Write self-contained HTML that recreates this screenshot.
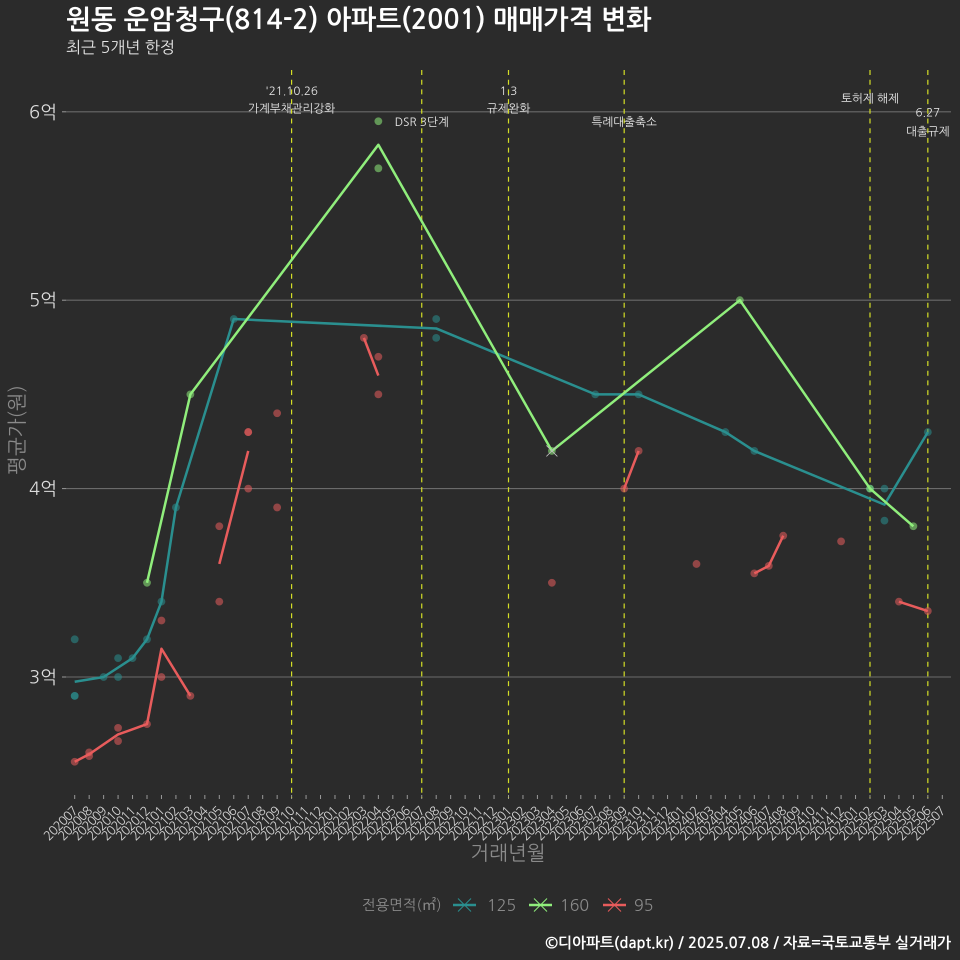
<!DOCTYPE html>
<html lang="ko">
<head>
<meta charset="utf-8">
<title>원동 운암청구(814-2) 아파트(2001) 매매가격 변화</title>
<style>
html,body{margin:0;padding:0;background:#2b2b2b;}
#chart{display:block;width:960px;height:960px;font-family:"NanumGothic","Liberation Sans","Noto Sans CJK KR",sans-serif;}
</style>
</head>
<body>
<svg id="chart" xmlns="http://www.w3.org/2000/svg" width="960" height="960" viewBox="0 0 960 960">
<rect x="0" y="0" width="960" height="960" fill="#2b2b2b"/>
<text x="66" y="29" font-size="26.75" font-weight="700" fill="#ffffff">원동 운암청구(814-2) 아파트(2001) 매매가격 변화</text>
<text x="66" y="53" font-size="16" fill="#e6e6e6">최근 5개년 한정</text>
<g id="grid"></g>
<g id="yaxis"></g>
<g id="xaxis"></g>
<g id="events"></g>
<g id="points"></g>
<g id="lines"></g>
<g id="notes"></g>
<text transform="translate(24,430) rotate(-90)" text-anchor="middle" font-size="20" fill="#8a8a8a">평균가(원)</text>
<text x="508" y="860" text-anchor="middle" font-size="20" fill="#8a8a8a">거래년월</text>
<text x="362" y="910" font-size="14.5" fill="#8a8a8a">전용면적(㎡)</text>
<g id="legend"></g>
<text x="951" y="948" text-anchor="end" font-size="14.9" font-weight="700" fill="#ffffff">©디아파트(dapt.kr) / 2025.07.08 / 자료=국토교통부 실거래가</text>
</svg>
<script>
const months = ["202007","202008","202009","202010","202011","202012","202101","202102","202103","202104","202105","202106","202107","202108","202109","202110","202111","202112","202201","202202","202203","202204","202205","202206","202207","202208","202209","202210","202211","202212","202301","202302","202303","202304","202305","202306","202307","202308","202309","202310","202311","202312","202401","202402","202403","202404","202405","202406","202407","202408","202409","202410","202411","202412","202501","202502","202503","202504","202505","202506","202507"];
const yTicks = [3,4,5,6];
const yTickLabels = ["3억","4억","5억","6억"];
const seriesNames = ["125","160","95"];
const seriesColors = ["#2a8f8f","#90ee7c","#e85c5c"];

const line125Months = ["202007","202009","202011","202012","202101","202102","202106","202208","202307","202310","202404","202406","202503","202506"];
const line125Values = [2.975,3.0,3.1,3.2,3.4,3.9,4.9,4.85,4.5,4.5,4.3,4.2,3.915,4.3];
const line160Months = ["202012","202103","202204","202304","202405","202502","202505"];
const line160Values = [3.5,4.5,5.825,4.2,5.0,4.0,3.8];
const line95aMonths = ["202007","202008","202010","202012","202101","202103"];
const line95aValues = [2.55,2.59,2.695,2.75,3.15,2.9];
const line95bMonths = ["202105","202107"];
const line95bValues = [3.6,4.2];
const line95cMonths = ["202203","202204"];
const line95cValues = [4.8,4.6];
const line95dMonths = ["202309","202310"];
const line95dValues = [4.0,4.2];
const line95eMonths = ["202406","202407","202408"];
const line95eValues = [3.55,3.59,3.75];
const line95fMonths = ["202504","202506"];
const line95fValues = [3.4,3.35];

const points125Months = ["202007","202007","202007","202009","202010","202010","202011","202012","202101","202102","202106","202208","202208","202307","202310","202404","202406","202502","202503","202503","202506"];
const points125Values = [3.2,2.9,2.9,3.0,3.1,3.0,3.1,3.2,3.4,3.9,4.9,4.9,4.8,4.5,4.5,4.3,4.2,4.0,4.0,3.83,4.3];
const points160Months = ["202012","202103","202204","202204","202304","202405","202502","202505"];
const points160Values = [3.5,4.5,5.95,5.7,4.2,5.0,4.0,3.8];
const points95Months = ["202007","202008","202008","202010","202010","202012","202101","202101","202103","202105","202105","202107","202107","202107","202109","202109","202203","202204","202204","202304","202309","202310","202402","202406","202407","202408","202412","202504","202506"];
const points95Values = [2.55,2.6,2.58,2.73,2.66,2.75,3.3,3.0,2.9,3.8,3.4,4.3,4.3,4.0,4.4,3.9,4.8,4.7,4.5,3.5,4.0,4.2,3.6,3.55,3.59,3.75,3.72,3.4,3.35];

const eventMonths = ["202110","202207","202301","202309","202502","202506"];
const noteTexts = ["'21.10.26","가계부채관리강화","DSR 3단계","1.3","규제완화","특례대출축소","토허제 해제","6.27","대출규제"];
const noteMonths = ["202110","202110","202207","202301","202301","202309","202502","202506","202506"];
const noteLevels = [6.11,6.017,5.945,6.11,6.017,5.945,6.07,5.995,5.895];

const xMarkMonths = ["202304"];
const xMarkValues = [4.2];

const NS = "http://www.w3.org/2000/svg";
function xScale(month){ return 74.7 + months.indexOf(month) * 14.46; }
function yScale(v){ return 677 - (v - 3) * 188.4; }
function make(parent, tag, attrs){
  const el = document.createElementNS(NS, tag);
  for (const k in attrs) el.setAttribute(k, attrs[k]);
  parent.appendChild(el);
  return el;
}
const gGrid = document.getElementById("grid");
const gY = document.getElementById("yaxis");
const gX = document.getElementById("xaxis");
const gEvents = document.getElementById("events");
const gPoints = document.getElementById("points");
const gLines = document.getElementById("lines");
const gNotes = document.getElementById("notes");
const gLegend = document.getElementById("legend");

yTicks.forEach(function(v, i){
  const y = yScale(v);
  const grid = make(gGrid, "line", {x1:66, x2:951, y1:y, y2:y, stroke:"#6b6b6b", "stroke-width":1.1});
  
  
  const tick = make(gY, "line", {x1:62, x2:66, y1:y, y2:y, stroke:"#9a9a9a", "stroke-width":1});
  
  
  const label = make(gY, "text", {x:57, y:y+6.5, "text-anchor":"end", "font-size":18, fill:"#dddddd"});
  label.textContent = yTickLabels[i];
  
  
});

months.forEach(function(m){
  const x = xScale(m);
  const tick = make(gX, "line", {x1:x, x2:x, y1:795, y2:799, stroke:"#9a9a9a", "stroke-width":1});
  
  
  const label = make(gX, "text", {transform:"translate("+(x+3.5)+",812) rotate(-45)", "text-anchor":"end", "font-size":12.6, "letter-spacing":"-0.75", fill:"#d4d4d4"});
  label.textContent = m;
  
  
});

eventMonths.forEach(function(m){
  const x = xScale(m);
  const ev = make(gEvents, "line", {x1:x, x2:x, y1:70, y2:798, stroke:"#d4de26", "stroke-width":1.2, "stroke-dasharray":"5 4.7"});
  
  
});

function drawPoints(ms, vs, color, name){
  ms.forEach(function(m, i){
    const c = make(gPoints, "circle", {cx:xScale(m), cy:yScale(vs[i]), r:3.9, fill:color, "fill-opacity":0.55});
    
    
  });
}
drawPoints(points125Months, points125Values, seriesColors[0], "point-125");
drawPoints(points160Months, points160Values, seriesColors[1], "point-160");
drawPoints(points95Months, points95Values, seriesColors[2], "point-95");

function drawLine(ms, vs, color, name){
  const pts = ms.map(function(m, i){ return xScale(m) + "," + yScale(vs[i]); }).join(" ");
  const pl = make(gLines, "polyline", {points:pts, fill:"none", stroke:color, "stroke-width":2.5, "stroke-linejoin":"round"});
  
  
}
drawLine(line125Months, line125Values, seriesColors[0], "line-125");
drawLine(line160Months, line160Values, seriesColors[1], "line-160");
drawLine(line95aMonths, line95aValues, seriesColors[2], "line-95");
drawLine(line95bMonths, line95bValues, seriesColors[2], "line-95");
drawLine(line95cMonths, line95cValues, seriesColors[2], "line-95");
drawLine(line95dMonths, line95dValues, seriesColors[2], "line-95");
drawLine(line95eMonths, line95eValues, seriesColors[2], "line-95");
drawLine(line95fMonths, line95fValues, seriesColors[2], "line-95");

noteTexts.forEach(function(t, i){
  const n = make(gNotes, "text", {x:xScale(noteMonths[i]), y:yScale(noteLevels[i])+4, "text-anchor":"middle", "font-size":11.6, fill:"#e8e8e8"});
  n.textContent = t;
  
  
});

const legendKeyX = [453,529,603];
const legendTextX = [487,560,634];
seriesNames.forEach(function(name, i){
  const kx = legendKeyX[i];
  const h = make(gLegend, "line", {x1:kx, x2:kx+23, y1:905, y2:905, stroke:seriesColors[i], "stroke-width":2.5});
  
  
  const d1 = make(gLegend, "line", {x1:kx+5, x2:kx+18, y1:898.5, y2:911.5, stroke:seriesColors[i], "stroke-width":1});
  
  
  const d2 = make(gLegend, "line", {x1:kx+5, x2:kx+18, y1:911.5, y2:898.5, stroke:seriesColors[i], "stroke-width":1});
  
  
  const t = make(gLegend, "text", {x:legendTextX[i], y:911, "font-size":16, fill:"#8a8a8a"});
  t.textContent = name;
  
  
});

xMarkMonths.forEach(function(m, i){
  const x = xScale(m), y = yScale(xMarkValues[i]);
  const a = make(gLines, "path", {d:"M"+(x-5.5)+" "+(y-5.5)+"L"+(x+5.5)+" "+(y+5.5)+"M"+(x-5.5)+" "+(y+5.5)+"L"+(x+5.5)+" "+(y-5.5), stroke:"#bdbdbd", "stroke-width":0.8, fill:"none"});
  
  
});
</script>
</body>
</html>
